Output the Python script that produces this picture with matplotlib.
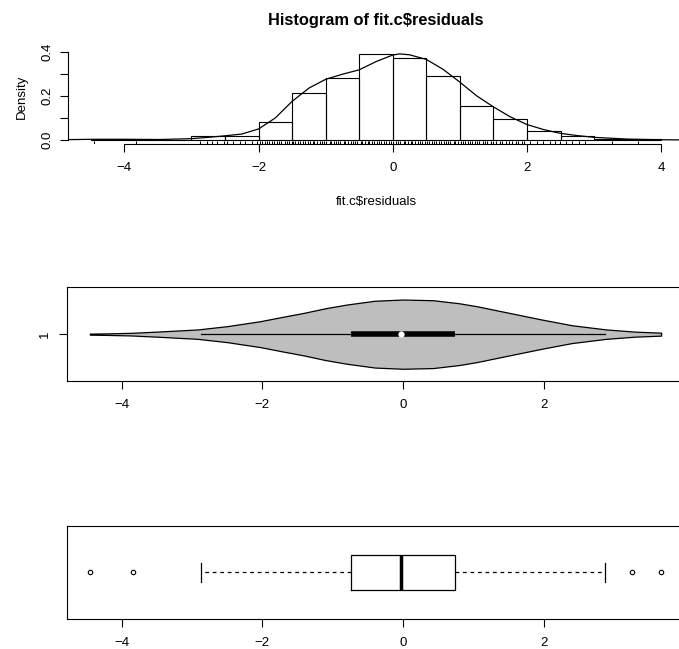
import numpy as np
import matplotlib
matplotlib.use("Agg")
import matplotlib.pyplot as plt

plt.rcParams['font.family'] = ['Liberation Sans', 'DejaVu Sans']

# histogram of residuals (bins of width 0.5, density scale)
bin_left = [-4.5, -4.0, -3.5, -3.0, -2.5, -2.0, -1.5, -1.0, -0.5,
            0.0, 0.5, 1.0, 1.5, 2.0, 2.5, 3.0, 3.5]
bin_density = [0.004, 0.004, 0.0, 0.020, 0.018, 0.083, 0.211, 0.282, 0.390,
               0.373, 0.292, 0.154, 0.096, 0.039, 0.017, 0.004, 0.004]

# kernel density curve
dens_x = [-5.0, -4.5, -4.0, -3.5, -3.0, -2.75, -2.5, -2.25, -2.0, -1.75,
          -1.5, -1.25, -1.0, -0.75, -0.5, -0.25, 0.0, 0.1, 0.25, 0.5,
          0.75, 1.0, 1.25, 1.5, 1.75, 2.0, 2.25, 2.5, 2.75, 3.0,
          3.5, 4.0, 4.5]
dens_y = [0.001, 0.003, 0.003, 0.002, 0.006, 0.012, 0.019, 0.027, 0.050, 0.100,
          0.175, 0.235, 0.275, 0.298, 0.318, 0.355, 0.385, 0.390, 0.386, 0.365,
          0.320, 0.262, 0.200, 0.150, 0.105, 0.070, 0.047, 0.030, 0.020, 0.012,
          0.004, 0.001, 0.000]

# rug positions (visible ticks)
rug_x = [-4.45, -3.83, -2.87, -2.77, -2.70, -2.62, -2.52, -2.47, -2.38, -2.28,
         -2.20, -2.10, -2.03, -1.98, -1.95, -1.91, -1.88, -1.84, -1.80, -1.77,
         -1.72, -1.70, -1.66, -1.61, -1.58, -1.55, -1.50, -1.48, -1.45, -1.41,
         -1.38, -1.34, -1.31, -1.27, -1.24, -1.19, -1.17, -1.13, -1.09, -1.06,
         -1.02, -0.99, -0.94, -0.92, -0.88, -0.84, -0.81, -0.78, -0.73, -0.71,
         -0.67, -0.62, -0.60, -0.56, -0.53, -0.48, -0.46, -0.42, -0.37, -0.35,
         -0.31, -0.28, -0.23, -0.21, -0.17, -0.13, -0.10, -0.06, -0.03, 0.01,
         0.05, 0.08, 0.11, 0.16, 0.18, 0.22, 0.27, 0.29, 0.33, 0.37,
         0.40, 0.43, 0.48, 0.51, 0.54, 0.59, 0.61, 0.65, 0.69, 0.72,
         0.76, 0.80, 0.83, 0.86, 0.91, 0.93, 0.97, 1.02, 1.04, 1.08,
         1.12, 1.15, 1.18, 1.23, 1.26, 1.29, 1.34, 1.37, 1.41, 1.46,
         1.50, 1.54, 1.60, 1.63, 1.68, 1.73, 1.77, 1.83, 1.87, 1.92,
         1.95, 2.05, 2.15, 2.24, 2.34, 2.42, 2.49, 2.58, 2.67, 2.77,
         2.87, 3.26, 3.66]

# violin outline: position and half width (in axis units)
vio_x = [-4.45, -4.2, -3.87, -3.5, -2.92, -2.5, -2.03, -1.7, -1.41, -1.1,
         -0.80, -0.4, 0.0, 0.43, 0.8, 1.05, 1.5, 1.97, 2.4, 2.89,
         3.3, 3.67]
vio_w = [0.006, 0.009, 0.015, 0.029, 0.054, 0.092, 0.149, 0.201, 0.245, 0.299,
         0.341, 0.385, 0.399, 0.391, 0.356, 0.322, 0.247, 0.169, 0.103, 0.054,
         0.029, 0.017]

# five-number summary + outliers
q1, med, q3 = -0.74, -0.03, 0.74
whis_lo, whis_hi = -2.87, 2.87
outliers = [-4.45, -3.83, 3.25, 3.67]

fig = plt.figure(figsize=(6.79, 6.49), dpi=100)

FS = 9.5
tick_kw = dict(length=5.5, width=0.8, labelsize=FS)

# Panel 1: histogram
ax1 = fig.add_axes([68 / 679, 1 - 143.5 / 649, 616 / 679, 93.5 / 649])
ax1.bar(bin_left, bin_density, width=0.5, align='edge', fill=False,
        edgecolor='black', linewidth=0.8)
ax1.plot(dens_x, dens_y, color='black', linewidth=0.9)
ax1.vlines(rug_x, -0.0159, -0.0159 + 0.03 * 0.4236, color='black', linewidth=0.75)
ax1.set_xlim(-4.84, 4.34)
ax1.set_ylim(-0.0159, 0.4077)
for s in ['top', 'right']:
    ax1.spines[s].set_visible(False)
ax1.spines['left'].set_bounds(0, 0.4)
ax1.spines['bottom'].set_bounds(-4, 4)
ax1.spines['left'].set_linewidth(0.8)
ax1.spines['bottom'].set_linewidth(0.8)
ax1.set_xticks([-4, -2, 0, 2, 4])
ax1.set_yticks([0.0, 0.1, 0.2, 0.3, 0.4])
ax1.set_yticklabels(['0.0', '', '0.2', '', '0.4'], rotation=90, va='center')
ax1.tick_params(**tick_kw)
ax1.tick_params(axis='x', pad=7.5)
ax1.tick_params(axis='y', pad=5)
ax1.set_ylabel('Density', fontsize=FS, labelpad=10)
ax1.set_xlabel('fit.c$residuals', fontsize=FS, labelpad=16)
ax1.set_title('Histogram of fit.c$residuals', fontsize=11.8, fontweight='bold', pad=18)

# Panel 2: violin
ax2 = fig.add_axes([67 / 679, 1 - 381 / 649, 617 / 679, 93.7 / 649])
vx = np.array(vio_x)
vw = np.array(vio_w)
ax2.fill_between(vx, 1 - vw, 1 + vw, facecolor='#BEBEBE', edgecolor='black',
                 linewidth=0.9)
ax2.plot([whis_lo, whis_hi], [1, 1], color='black', linewidth=0.9)
ax2.plot([q1, q3], [1, 1], color='black', linewidth=4.0, solid_capstyle='butt')
ax2.plot([med], [1], 'o', color='white', markersize=4.5, markeredgewidth=0)
ax2.set_xlim(-4.775, 3.995)
ax2.set_ylim(0.46, 1.54)
ax2.set_xticks([-4, -2, 0, 2])
ax2.set_yticks([1])
ax2.set_yticklabels(['1'], rotation=90, va='center')
ax2.tick_params(**tick_kw)
ax2.tick_params(axis='x', pad=7.5)
ax2.tick_params(axis='y', pad=6)
for s in ax2.spines.values():
    s.set_linewidth(0.8)

# Panel 3: boxplot
ax3 = fig.add_axes([67 / 679, 1 - 619 / 649, 617 / 679, 93.3 / 649])
stats = [dict(med=med, q1=q1, q3=q3, whislo=whis_lo, whishi=whis_hi, fliers=outliers)]
ax3.bxp(stats, positions=[1], widths=0.4, vert=False, showfliers=True,
        boxprops=dict(color='black', linewidth=0.9),
        whiskerprops=dict(color='black', linewidth=0.9, linestyle=(0, (3, 3))),
        capprops=dict(color='black', linewidth=0.9),
        medianprops=dict(color='black', linewidth=2.5),
        flierprops=dict(marker='o', markersize=3.2, markerfacecolor='none',
                        markeredgecolor='black', markeredgewidth=0.8),
        capwidths=0.22)
ax3.set_xlim(-4.775, 3.995)
ax3.set_ylim(0.46, 1.54)
ax3.set_xticks([-4, -2, 0, 2])
ax3.set_xticklabels(['\u22124', '\u22122', '0', '2'])
ax3.set_yticks([])
ax3.tick_params(**tick_kw)
ax3.tick_params(axis='x', pad=7.5)
for s in ax3.spines.values():
    s.set_linewidth(0.8)

fig.savefig('out.png', dpi=100)
